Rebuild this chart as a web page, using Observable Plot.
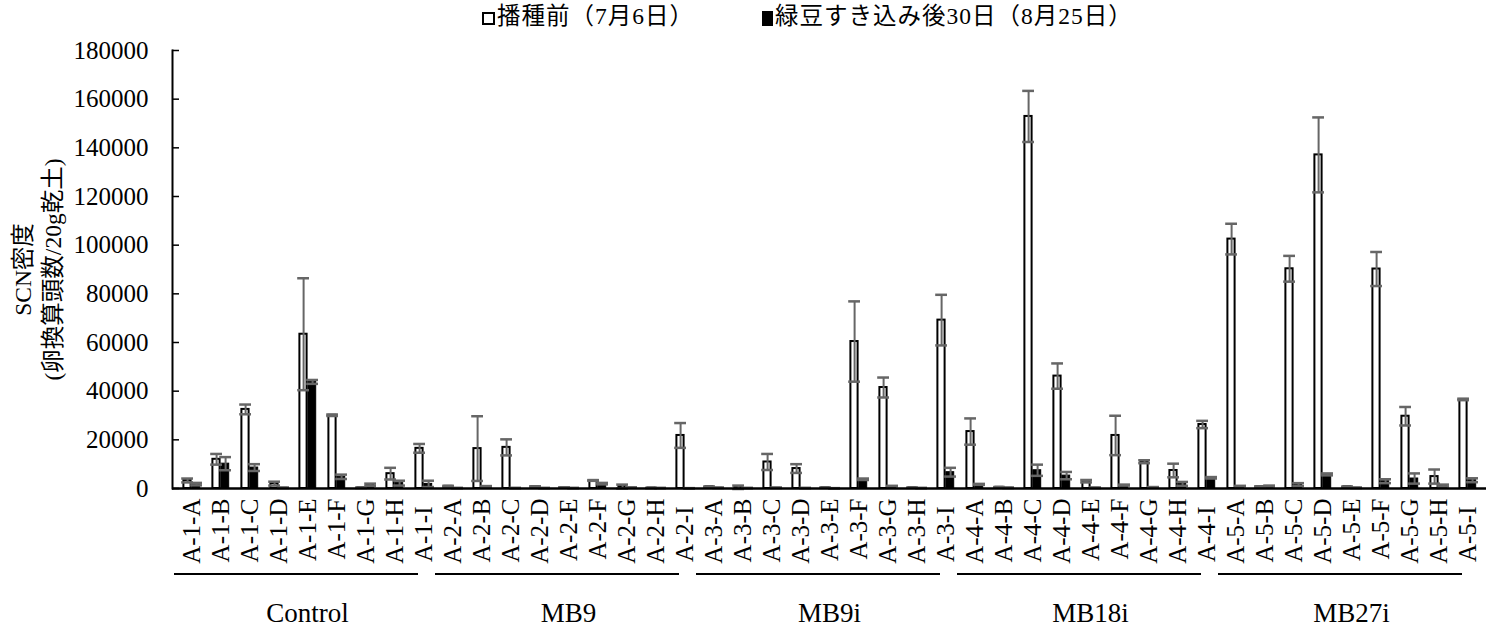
<!DOCTYPE html>
<html>
<head>
<meta charset="utf-8">
<script src="https://cdn.jsdelivr.net/npm/d3@7"></script>
<script src="https://cdn.jsdelivr.net/npm/@observablehq/plot@0.6"></script>
<style>
  body { margin: 0; background: #fff; }
  #wrap { position: relative; width: 1501px; height: 636px; overflow: hidden; }
  #legend { position: relative; height: 34px; font-family: "Liberation Serif", "Noto Sans CJK JP", serif; font-size: 23.5px; letter-spacing: 1px; color: #000; }
  .item { position: absolute; top: 3px; white-space: nowrap; line-height: 26px; }
  .kw { display: inline-block; width: 9px; height: 9px; border: 2px solid #000; background: #fff; vertical-align: -1px; margin-right: 2px; }
  .kb { display: inline-block; width: 11px; height: 15px; background: #000; vertical-align: -2px; margin-right: 2px; }
</style>
</head>
<body>
<div id="wrap">
  <div id="legend">
    <div class="item" style="left:482px"><span class="kw"></span>播種前（7月6日）</div>
    <div class="item" style="left:762px"><span class="kb"></span>緑豆すき込み後30日（8月25日）</div>
  </div>
  <div id="chart"></div>
</div>
<script>
const categories = [
  "A-1-A","A-1-B","A-1-C","A-1-D","A-1-E","A-1-F","A-1-G","A-1-H","A-1-I",
  "A-2-A","A-2-B","A-2-C","A-2-D","A-2-E","A-2-F","A-2-G","A-2-H","A-2-I",
  "A-3-A","A-3-B","A-3-C","A-3-D","A-3-E","A-3-F","A-3-G","A-3-H","A-3-I",
  "A-4-A","A-4-B","A-4-C","A-4-D","A-4-E","A-4-F","A-4-G","A-4-H","A-4-I",
  "A-5-A","A-5-B","A-5-C","A-5-D","A-5-E","A-5-F","A-5-G","A-5-H","A-5-I"
];
const groups = ["Control", "MB9", "MB9i", "MB18i", "MB27i"];
const seriesNames = ["播種前（7月6日）", "緑豆すき込み後30日（8月25日）"];

// 播種前（7月6日）
const beforeMean = [
  3300, 12000, 32500, 2000, 63400, 30100, 300, 6100, 16500,
  900, 16400, 16900, 800, 400, 3300, 800, 200, 21800,
  700, 500, 10900, 8200, 300, 60400, 41500, 300, 69200,
  23400, 500, 152900, 46200, 3000, 21800, 11000, 7400, 26300,
  102500, 800, 90300, 137100, 700, 90200, 29700, 4900, 36600
];
const beforeSD = [
  800, 2200, 2000, 800, 23000, 300, 100, 2400, 1800,
  200, 13300, 3300, 100, 100, 150, 800, 50, 5100,
  100, 700, 3300, 1800, 50, 16500, 4100, 50, 10400,
  5400, 100, 10500, 5200, 500, 8100, 600, 2800, 1500,
  6300, 100, 5300, 15400, 100, 7000, 3800, 2900, 300
];
// 緑豆すき込み後30日（8月25日）
const afterMean = [
  1800, 10200, 8600, 300, 43800, 4800, 1500, 2200, 1900,
  200, 800, 200, 200, 200, 2000, 400, 200, 100,
  300, 200, 300, 200, 100, 3800, 1000, 200, 6700,
  1700, 300, 7500, 5300, 300, 1400, 500, 1900, 4400,
  1000, 1000, 1600, 5800, 300, 3000, 4100, 1200, 3400
];
const afterSD = [
  500, 2700, 1400, 100, 800, 900, 500, 1000, 1300,
  50, 200, 50, 50, 50, 300, 100, 50, 50,
  100, 50, 100, 50, 50, 300, 100, 50, 1800,
  200, 100, 2300, 1500, 100, 200, 100, 800, 300,
  100, 200, 600, 400, 100, 800, 2100, 400, 800
];
const yTicks = [0, 20000, 40000, 60000, 80000, 100000, 120000, 140000, 160000, 180000];
const yTitle = "SCN密度\n(卵換算頭数/20g乾土)";

const before = categories.map((c, i) => ({cat: c, v: beforeMean[i], sd: beforeSD[i], s: seriesNames[0]}));
const after = categories.map((c, i) => ({cat: c, v: afterMean[i], sd: afterSD[i], s: seriesNames[1]}));

const W = 1501, H = 602;
const mL = 172, mR = 15, mT = 16, mB = 148;
const bw = (W - mL - mR) / categories.length;
const h = bw / 2;
const errColor = "#666";
const font = "'Liberation Serif', 'Noto Sans CJK JP', serif";

const nonI = categories.filter(c => !c.endsWith("I"));
const iCats = categories.filter(c => c.endsWith("I"));

const chart = Plot.plot({
  width: W, height: H,
  marginLeft: mL, marginRight: mR, marginTop: mT, marginBottom: mB,
  style: {fontFamily: font, color: "#000", background: "#fff"},
  x: {type: "band", domain: categories, padding: 0},
  y: {domain: [0, 180000]},
  marks: [
    Plot.barY(before, {x: "cat", y: "v", fill: "white", stroke: "black", strokeWidth: 2, insetLeft: h - 8.2, insetRight: h + 0.8}),
    Plot.barY(after, {x: "cat", y: "v", fill: "black", stroke: "black", strokeWidth: 1, insetLeft: h + 0.3, insetRight: h - 8.3}),
    // error bars, before
    Plot.ruleX(before, {x: "cat", y1: d => d.v - d.sd, y2: d => d.v + d.sd, dx: -4.4, stroke: errColor, strokeWidth: 2}),
    Plot.tickY(before, {x: "cat", y: d => d.v + d.sd, insetLeft: h - 4.4 - 6, insetRight: h + 4.4 - 6, stroke: errColor, strokeWidth: 2.5}),
    Plot.tickY(before, {x: "cat", y: d => d.v - d.sd, insetLeft: h - 4.4 - 6, insetRight: h + 4.4 - 6, stroke: errColor, strokeWidth: 2.5}),
    // error bars, after
    Plot.ruleX(after, {x: "cat", y1: d => d.v - d.sd, y2: d => d.v + d.sd, dx: 4.6, stroke: errColor, strokeWidth: 2}),
    Plot.tickY(after, {x: "cat", y: d => d.v + d.sd, insetLeft: h + 4.6 - 6, insetRight: h - 4.6 - 6, stroke: errColor, strokeWidth: 2.5}),
    Plot.tickY(after, {x: "cat", y: d => d.v - d.sd, insetLeft: h + 4.6 - 6, insetRight: h - 4.6 - 6, stroke: errColor, strokeWidth: 2.5}),
    // axes
    Plot.tickY(yTicks, {y: d => d, insetRight: (W - mL - mR) - 7, stroke: "black", strokeWidth: 1.5}),
    Plot.frame({anchor: "left", stroke: "black", strokeWidth: 2}),
    Plot.ruleY([0], {stroke: "black", strokeWidth: 2.5}),
    Plot.axisY(yTicks, {tickSize: 0, tickPadding: 24, tickFormat: d => String(d), fontSize: 25, label: null}),
    Plot.axisX(nonI, {tickRotate: -90, tickSize: 0, tickPadding: 10, fontSize: 25, label: null}),
    Plot.axisX(iCats, {tickRotate: -90, tickSize: 0, tickPadding: 18, fontSize: 25, label: null}),
    Plot.text([yTitle], {text: d => d, frameAnchor: "left", textAnchor: "middle", rotate: -90, dx: -136, fontSize: 23.5, lineHeight: 1.25})
  ]
});
document.getElementById("chart").appendChild(chart);

// group underlines and group labels, positioned with the chart's own x scale
const xs = chart.scale("x");
const svg = d3.select(chart);
groups.forEach((g, gi) => {
  const first = categories[gi * 9];
  const last = categories[gi * 9 + 8];
  const x0 = xs.apply(first) - 3;
  const x1 = xs.apply(last) + 9;
  svg.append("line").attr("x1", x0).attr("x2", x1).attr("y1", 540).attr("y2", 540)
    .attr("stroke", "black").attr("stroke-width", 2);
  const cx = (xs.apply(first) + xs.apply(last) + bw) / 2;
  svg.append("text").attr("x", cx).attr("y", 588).attr("text-anchor", "middle")
    .attr("font-size", 27).attr("font-family", font).attr("fill", "black").text(g);
});
</script>
</body>
</html>
